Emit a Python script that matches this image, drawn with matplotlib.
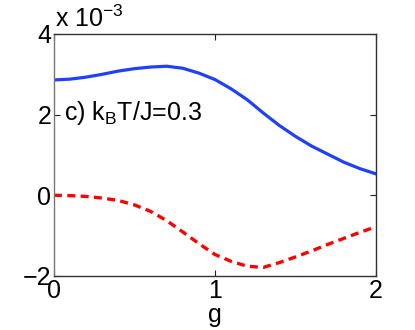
import matplotlib
matplotlib.use("Agg")
import matplotlib.pyplot as plt

plt.rcParams['font.family'] = ['Liberation Sans', 'DejaVu Sans']
plt.rcParams['mathtext.fontset'] = 'custom'
plt.rcParams['mathtext.rm'] = 'Liberation Sans'
plt.rcParams['mathtext.it'] = 'Liberation Sans'

# values (units of 1e-3)
g = [0.0, 0.1, 0.2, 0.3, 0.4, 0.5, 0.6, 0.7, 0.8, 0.9, 1.0,
     1.1, 1.2, 1.3, 1.4, 1.5, 1.6, 1.7, 1.8, 1.9, 2.0]
blue = [2.86, 2.88, 2.93, 3.00, 3.08, 3.14, 3.18, 3.20, 3.15, 3.03, 2.87,
        2.64, 2.37, 2.04, 1.73, 1.46, 1.22, 1.02, 0.82, 0.66, 0.53]
red = [0.0, -0.01, -0.03, -0.07, -0.13, -0.24, -0.40, -0.63, -0.91, -1.20, -1.47,
       -1.64, -1.76, -1.79, -1.67, -1.53, -1.38, -1.22, -1.07, -0.92, -0.78]
xticks = [0, 1, 2]
yticks = [-2, 0, 2, 4]

fig = plt.figure(figsize=(4.15, 3.3), dpi=100)
ax = fig.add_axes([0.130, 0.164, 0.776, 0.733])

ax.plot(g, blue, color='#2040ff', lw=2.3)
ax.plot(g, red, color='#ff0000', lw=2.4, linestyle=(0, (2.4, 1.6)))

ax.set_xlim(0, 2)
ax.set_ylim(-2, 4)
ax.set_xticks(xticks)
ax.set_yticks(yticks)
ax.tick_params(direction='in', top=True, right=True, labelsize=18,
               length=4, width=0.8, pad=2, colors='#222222', labelcolor='black')
for side in ['top', 'right', 'bottom']:
    ax.spines[side].set_color('#333333')
ax.spines['left'].set_color('#777777')
for s in ax.spines.values():
    s.set_linewidth(1.0)

ax.set_xlabel('g', fontsize=18, labelpad=0.5)
ax.text(0.003, 1.01, r'x 10$^{-3}$', transform=ax.transAxes, fontsize=18,
        ha='left', va='bottom')
ax.text(0.06, 2.03, r'c) k$_{\rm B}$T/J=0.3', fontsize=18, ha='left', va='center')

fig.savefig('out.png', dpi=100)
plt.close(fig)
